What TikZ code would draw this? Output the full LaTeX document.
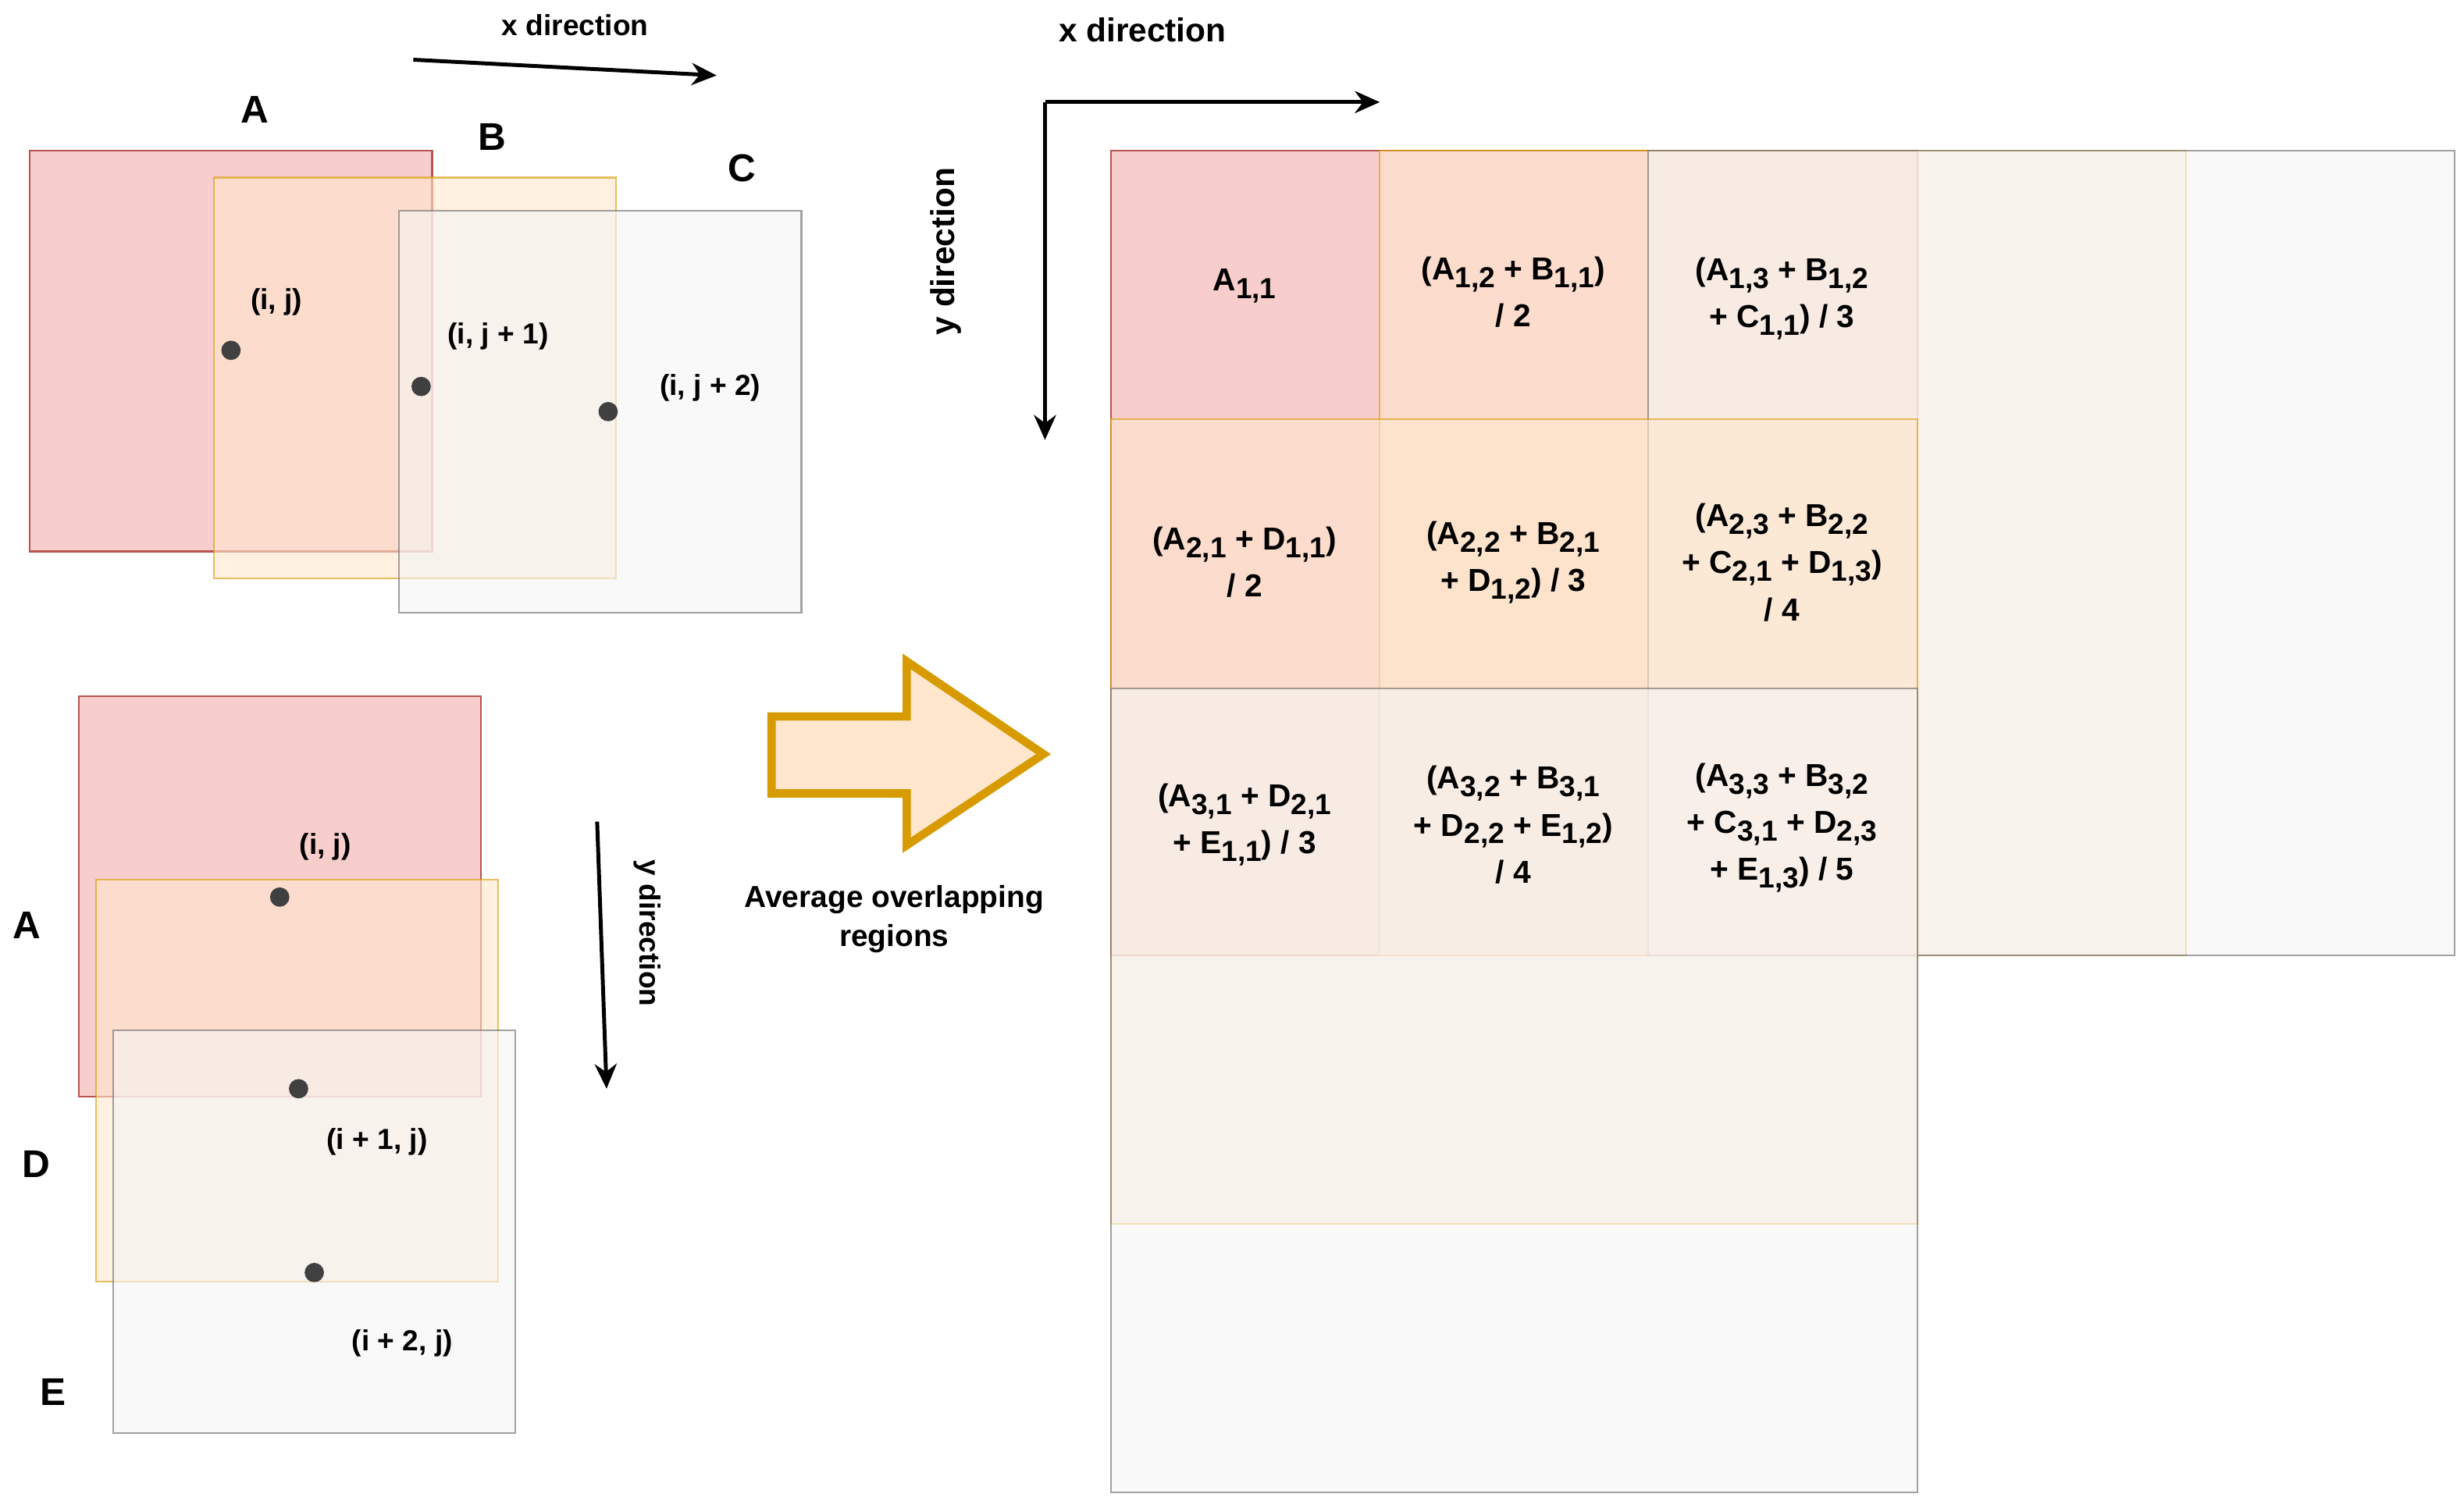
\documentclass[tikz,border=0pt]{standalone}
\usepackage{fontspec}
\setmainfont{Liberation Sans}
\usetikzlibrary{arrows.meta}
\definecolor{aF}{HTML}{F8CECC}\definecolor{aS}{HTML}{B85450}
\definecolor{bF}{HTML}{FFE6CC}\definecolor{bS}{HTML}{D79B00}
\definecolor{cF}{HTML}{F5F5F5}\definecolor{cS}{HTML}{666666}
\newcommand{\sbs}[1]{\raisebox{-0.45ex}{\fontsize{10.5}{11}\selectfont #1}}
\begin{document}
\begin{tikzpicture}[x=0.02cm,y=-0.02cm,
  sa/.style={draw=aS,fill=aF,line width=0.6pt},
  sb/.style={draw=bS,fill=bF,fill opacity=0.6,draw opacity=0.6,line width=0.6pt},
  sc/.style={draw=cS,fill=cF,fill opacity=0.6,draw opacity=0.6,line width=0.6pt},
  big/.style={font=\bfseries\fontsize{14}{16}\selectfont},
  lab/.style={font=\bfseries\fontsize{10.5}{12}\selectfont},
  cell/.style={font=\bfseries\fontsize{11.5}{17}\selectfont,align=center},
  dot/.style={circle,fill=black!75,inner sep=0pt,minimum size=7pt},
  arr/.style={-{Stealth[length=9pt,width=8pt]},line width=1.4pt}]
\useasboundingbox (0,0) rectangle (1568,959.4);
% top-left group
\draw[sa] (19,96) rectangle (275,351);
\draw[sb] (136,113) rectangle (392,368);
\draw[sc] (254,134) rectangle (510,390);
\node[big] (lA) at (162,70) {A};
\node[big] (lB) at (313,87) {B};
\node[big] (lC) at (472,107) {C};
\node[dot] (d1) at (147,223) {};
\node[dot] (d2) at (268,246) {};
\node[dot] (d3) at (387,262) {};
\node[lab] (t1) at (176,192) {(i, j)};
\node[lab] (t2) at (317,214) {(i, j + 1)};
\node[lab] (t3) at (452,247) {(i, j + 2)};
\coordinate (xa1) at (263,38); \coordinate (xa2) at (456,48);
\draw[arr] (xa1) -- (xa2);
\node[lab] (xl1) at (366,16) {x direction};
% bottom-left group
\draw[sa] (50,443) rectangle (306,698);
\draw[sb] (61,560) rectangle (317,816);
\draw[sc] (72,656) rectangle (328,912);
\node[big] (lA2) at (17,589) {A};
\node[big] (lD) at (23,741) {D};
\node[big] (lE) at (34,886) {E};
\node[dot] (e1) at (178,571) {};
\node[dot] (e2) at (190,693) {};
\node[dot] (e3) at (200,810) {};
\node[lab] (u1) at (207,539) {(i, j)};
\node[lab] (u2) at (240,727) {(i + 1, j)};
\node[lab] (u3) at (256,855) {(i + 2, j)};
\coordinate (ya1) at (380,523); \coordinate (ya2) at (386,693);
\draw[arr] (ya1) -- (ya2);
\node[lab,rotate=-90] (yl1) at (412,594) {y direction};
% big arrow
\draw[draw=bS,fill=bF,line width=3pt,line join=miter]
  (491,456) -- (577,456) -- (577,421) -- (664,480) -- (577,538) -- (577,505) -- (491,505) -- cycle;
\node[align=center,font=\bfseries\fontsize{11}{14}\selectfont] (avg) at (569,585) {Average overlapping\\regions};
% right axes
\coordinate (o) at (665,65); \coordinate (ox) at (878,65); \coordinate (oy) at (665,280);
\draw[arr] (o) -- (ox);
\draw[arr] (o) -- (oy);
\node[font=\bfseries\fontsize{12}{14}\selectfont] (xl2) at (727,19) {x direction};
\node[font=\bfseries\fontsize{12}{14}\selectfont,rotate=90] (yl2) at (602,160) {y direction};
% grid
\draw[sa] (707,96) rectangle (1220,608);
\draw[sb] (878,96) rectangle (1391,608);
\draw[sc] (1049,96) rectangle (1562,608);
\draw[sb] (707,267) rectangle (1220,779);
\draw[sc] (707,438) rectangle (1220,950);
\node[cell] (c11) at (792,182) {A\sbs{1,1}};
\node[cell] (c12) at (963,186) {(A\sbs{1,2} + B\sbs{1,1})\\/ 2};
\node[cell] (c13) at (1134,190) {(A\sbs{1,3} + B\sbs{1,2}\\+ C\sbs{1,1}) / 3};
\node[cell] (c21) at (792,358) {(A\sbs{2,1} + D\sbs{1,1})\\/ 2};
\node[cell] (c22) at (963,358) {(A\sbs{2,2} + B\sbs{2,1}\\+ D\sbs{1,2}) / 3};
\node[cell] (c23) at (1134,358) {(A\sbs{2,3} + B\sbs{2,2}\\+ C\sbs{2,1} + D\sbs{1,3})\\/ 4};
\node[cell] (c31) at (792,525) {(A\sbs{3,1} + D\sbs{2,1}\\+ E\sbs{1,1}) / 3};
\node[cell] (c32) at (963,525) {(A\sbs{3,2} + B\sbs{3,1}\\+ D\sbs{2,2} + E\sbs{1,2})\\/ 4};
\node[cell] (c33) at (1134,527) {(A\sbs{3,3} + B\sbs{3,2}\\+ C\sbs{3,1} + D\sbs{2,3}\\+ E\sbs{1,3}) / 5};
\end{tikzpicture}
\end{document}
